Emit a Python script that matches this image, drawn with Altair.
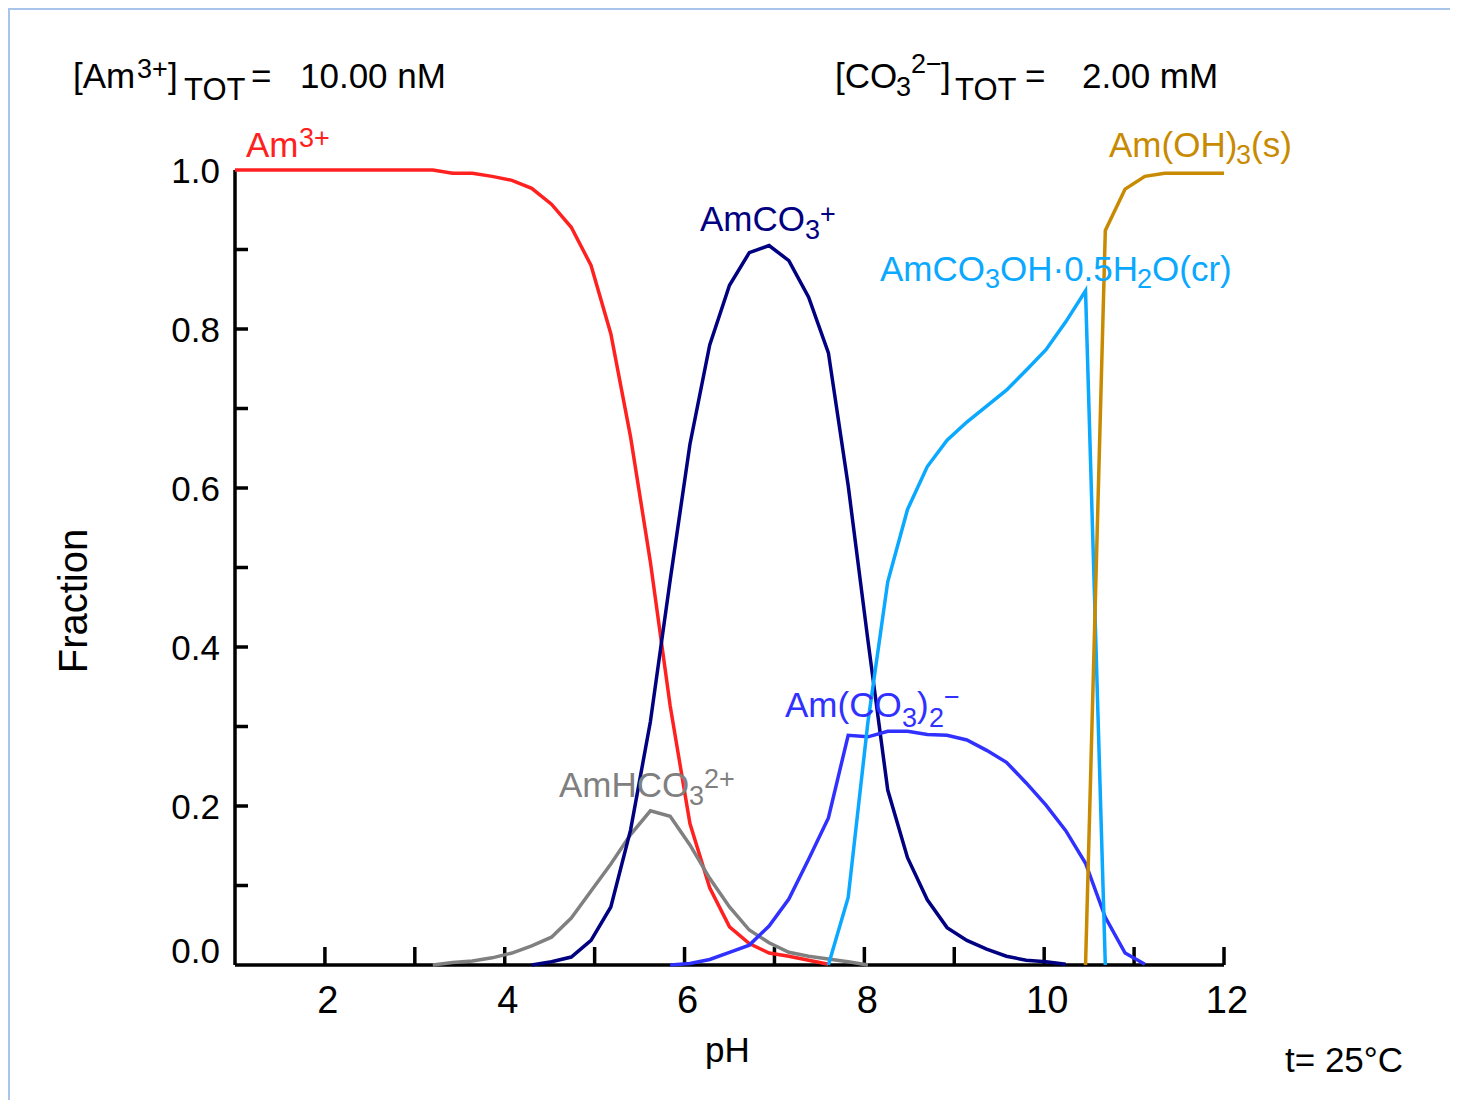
import altair as alt
import pandas as pd

N = None

# pH grid of the calculation
PH = [1.00, 1.22, 1.44, 1.66, 1.88, 2.10, 2.32, 2.54, 2.76, 2.98,
      3.20, 3.42, 3.64, 3.86, 4.08, 4.30, 4.52, 4.74, 4.96, 5.18,
      5.40, 5.62, 5.84, 6.06, 6.28, 6.50, 6.72, 6.94, 7.16, 7.38,
      7.60, 7.82, 8.04, 8.26, 8.48, 8.70, 8.92, 9.14, 9.36, 9.58,
      9.80, 10.02, 10.24, 10.46, 10.68, 10.90, 11.12, 11.34, 11.56, 11.78,
      12.00]

AM3 = [1.000, 1.000, 1.000, 1.000, 1.000, 1.000, 1.000, 1.000, 1.000, 1.000,
       1.000, 0.996, 0.996, 0.992, 0.987, 0.977, 0.957, 0.928, 0.880, 0.794,
       0.664, 0.507, 0.326, 0.178, 0.097, 0.048, 0.027, 0.015, 0.011, 0.006,
       0.001] + [N] * 20

AMHCO3 = [N] * 10 + [0.000, 0.003, 0.005, 0.009, 0.015, 0.024, 0.035, 0.059, 0.093, 0.127,
                     0.164, 0.194, 0.187, 0.151, 0.109, 0.073, 0.044, 0.028, 0.016, 0.011,
                     0.0075, 0.004, 0.000] + [N] * 18

AMCO3 = [N] * 15 + [0.000, 0.004, 0.010, 0.031, 0.073, 0.170, 0.306, 0.484, 0.655, 0.780,
                    0.855, 0.896, 0.905, 0.886, 0.840, 0.770, 0.603, 0.408, 0.220, 0.135,
                    0.082, 0.047, 0.031, 0.020, 0.011, 0.006, 0.004, 0.001] + [N] * 8

AMCO32 = [N] * 22 + [0.000, 0.002, 0.007, 0.016, 0.025, 0.049, 0.083, 0.133, 0.185, 0.289,
                     0.287, 0.294, 0.294, 0.290, 0.289, 0.283, 0.270, 0.255, 0.229, 0.201,
                     0.169, 0.128, 0.060, 0.015, 0.001] + [N] * 4

AMCO3OH = [N] * 30 + [0.000, 0.085, 0.306, 0.482, 0.573, 0.627, 0.660, 0.683, 0.703, 0.723,
                      0.748, 0.774, 0.809, 0.848, 0.000] + [N] * 6

AMOH3 = [N] * 43 + [0.000, 0.924, 0.976, 0.992, 0.996, 0.996, 0.996, 0.996]

SERIES = ["Am3+", "AmHCO3 2+", "AmCO3+", "Am(CO3)2-", "AmCO3OH.0.5H2O(cr)", "Am(OH)3(s)"]
VALUES = [AM3, AMHCO3, AMCO3, AMCO32, AMCO3OH, AMOH3]
COLORS = ["#ff2020", "#808080", "#000080", "#3030ff", "#0aa8ff", "#c88a00"]

X_TICKS = [2, 3, 4, 5, 6, 7, 8, 9, 10, 11, 12]
X_LABELS = [2, 4, 6, 8, 10, 12]
Y_TICKS = [0.1, 0.2, 0.3, 0.4, 0.5, 0.6, 0.7, 0.8, 0.9]
Y_LABELS = [0.0, 0.2, 0.4, 0.6, 0.8, 1.0]

NAVY, RED, GRAY, BLUE, LBLUE, GOLD, BLACK = "#000080", "#ff2020", "#808080", "#3030ff", "#0aa8ff", "#c88a00", "#000000"

# text pieces: (text, page-x left, page-y baseline, size, colour)
TEXTS = [
    ("[Am", 73, 88, 35, BLACK), ("3+", 137, 78, 27, BLACK), ("]", 168, 88, 35, BLACK),
    ("TOT", 184, 100, 31, BLACK), ("=", 251, 88, 35, BLACK), ("10.00 nM", 300, 88, 35, BLACK),
    ("[CO", 835, 88, 35, BLACK), ("3", 896, 96, 27, BLACK), ("2\u2212", 911, 73, 27, BLACK),
    ("]", 941, 88, 35, BLACK), ("TOT", 955, 100, 31, BLACK), ("=", 1025, 88, 35, BLACK),
    ("2.00 mM", 1082, 88, 35, BLACK),
    ("Am", 246, 157, 35, RED), ("3+", 299, 147, 27, RED),
    ("AmCO", 700, 231, 35, NAVY), ("3", 805, 239, 27, NAVY), ("+", 820, 223, 27, NAVY),
    ("AmCO", 880, 281, 35, LBLUE), ("3", 985, 288, 27, LBLUE), ("OH\u00b70.5H", 1000, 281, 35, LBLUE),
    ("2", 1137, 288, 27, LBLUE), ("O(cr)", 1152, 281, 35, LBLUE),
    ("Am(OH)", 1109, 157, 35, GOLD), ("3", 1236, 164, 27, GOLD), ("(s)", 1251, 157, 35, GOLD),
    ("Am(CO", 785, 717, 35, BLUE), ("3", 902, 727, 27, BLUE), (")", 917, 717, 35, BLUE),
    ("2", 929, 727, 27, BLUE), ("\u2212", 944, 706, 27, BLUE),
    ("AmHCO", 559, 797, 35, GRAY), ("3", 689, 805, 27, GRAY), ("2+", 704, 788, 27, GRAY),
    ("t= 25\u00b0C", 1285, 1072, 35, BLACK),
    ("pH", 705, 1062, 35, BLACK),
]

FONT = "Liberation Sans, Arial, Helvetica, sans-serif"

# plot geometry (page pixels)
X0, Y0, W, H = 235, 170, 989, 795
XMIN, XMAX = 1, 12
LW = 3.5

rows = []
for name, vals, col in zip(SERIES, VALUES, COLORS):
    for p, v in zip(PH, vals):
        if v is not None:
            rows.append({"series": name, "pH": p, "frac": v, "col": col})
df = pd.DataFrame(rows)

xs = alt.Scale(domain=[XMIN, XMAX], nice=False, zero=False)
ys = alt.Scale(domain=[0, 1], nice=False, zero=False)

lines = alt.Chart(df).mark_line(strokeWidth=LW).encode(
    x=alt.X("pH:Q", scale=xs, axis=None),
    y=alt.Y("frac:Q", scale=ys, axis=None),
    color=alt.Color("col:N", scale=None, legend=None),
    detail="series:N",
    order=alt.Order("pH:Q"),
)

one = pd.DataFrame({"v": [0]})
x_axis_line = alt.Chart(one).mark_rule(strokeWidth=LW, color="black").encode(
    y=alt.Y("v:Q", scale=ys, axis=None), x=alt.value(0), x2=alt.value(W))
y_axis_line = alt.Chart(one).mark_rule(strokeWidth=LW, color="black").encode(
    x=alt.value(0), y=alt.value(0), y2=alt.value(H))

ytk = alt.Chart(pd.DataFrame({"v": Y_TICKS})).mark_rule(strokeWidth=LW, color="black").encode(
    y=alt.Y("v:Q", scale=ys, axis=None), x=alt.value(0), x2=alt.value(13))
xtk = alt.Chart(pd.DataFrame({"v": X_TICKS})).mark_rule(strokeWidth=LW, color="black").encode(
    x=alt.X("v:Q", scale=xs, axis=None), y=alt.value(H), y2=alt.value(H - 18))

xlab = alt.Chart(pd.DataFrame({"v": X_LABELS})).mark_text(
    align="center", baseline="alphabetic", dx=3, font=FONT, fontSize=38, color="black").encode(
    x=alt.X("v:Q", scale=xs, axis=None), y=alt.value(1013 - Y0), text=alt.Text("v:Q", format="d"))

ylab_df = pd.DataFrame({"v": Y_LABELS})
ylab = alt.Chart(ylab_df).transform_filter("datum.v > 0").mark_text(
    align="right", baseline="alphabetic", dy=12.5, font=FONT, fontSize=35, color="black").encode(
    y=alt.Y("v:Q", scale=ys, axis=None), x=alt.value(-15), text=alt.Text("v:Q", format=".1f"))
ylab0 = alt.Chart(ylab_df).transform_filter("datum.v == 0").mark_text(
    align="right", baseline="alphabetic", dy=-2.5, font=FONT, fontSize=35, color="black").encode(
    y=alt.Y("v:Q", scale=ys, axis=None), x=alt.value(-15), text=alt.Text("v:Q", format=".1f"))

tdf = pd.DataFrame([
    {"t": t, "xd": XMIN + (px - X0) * (XMAX - XMIN) / W, "yd": 1 - (py - Y0) / H, "fs": fs, "c": c}
    for (t, px, py, fs, c) in TEXTS])
texts = alt.Chart(tdf).mark_text(align="left", baseline="alphabetic", font=FONT).encode(
    x=alt.X("xd:Q", scale=xs, axis=None), y=alt.Y("yd:Q", scale=ys, axis=None),
    text="t:N", size=alt.Size("fs:Q", scale=None, legend=None),
    color=alt.Color("c:N", scale=None, legend=None))

frac_title = alt.Chart(pd.DataFrame({"t": ["Fraction"], "xd": [XMIN + (87 - X0) * (XMAX - XMIN) / W],
                                      "yd": [1 - (601 - Y0) / H]})).mark_text(
    angle=270, align="center", baseline="alphabetic", font=FONT, fontSize=40, color="black").encode(
    x=alt.X("xd:Q", scale=xs, axis=None), y=alt.Y("yd:Q", scale=ys, axis=None), text="t:N")

border = alt.Chart(one).mark_rect(
    fillOpacity=0, stroke="#a8c4ea", strokeWidth=2).encode(
    x=alt.value(-226), x2=alt.value(1500), y=alt.value(-161), y2=alt.value(1300))

chart = alt.layer(border, x_axis_line, y_axis_line, ytk, xtk, xlab, ylab, ylab0,
                  lines, texts, frac_title).properties(
    width=W, height=H,
    padding={"left": 227, "top": 162, "right": 226, "bottom": 135},
    autosize=alt.AutoSizeParams(type="none"),
    background="white",
).configure_view(stroke=None)

chart.save("out.html", embed_options={"renderer": "svg", "actions": False})
